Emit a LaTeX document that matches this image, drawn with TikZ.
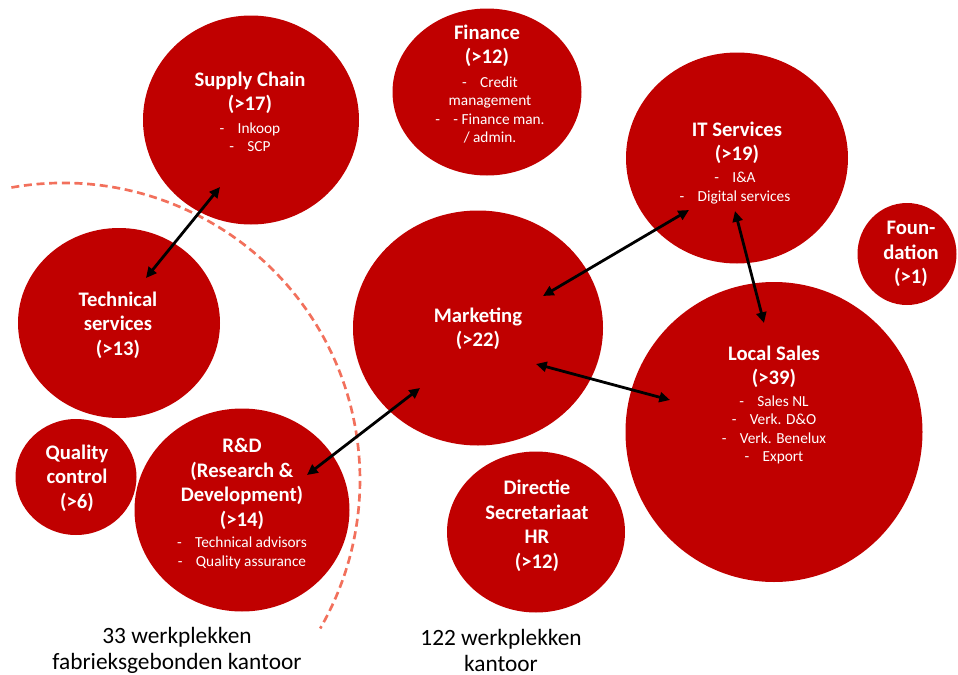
\documentclass[tikz,border=0pt]{standalone}
\usepackage{fontspec}
\setmainfont{Carlito}
\usetikzlibrary{shapes.geometric,arrows.meta}

\definecolor{unitred}{RGB}{192,0,0}
\definecolor{splitline}{RGB}{242,112,92}
\newcommand{\itemdash}{-\hspace{10pt}}

\tikzset{
  unit/.style 2 args={shape=ellipse,fill=unitred,inner sep=0pt,
    minimum width=#1*0.75pt,minimum height=#2*0.75pt},
  head/.style={text=white,align=center,inner sep=0pt,
    font=\bfseries\fontsize{15.5}{18.4}\selectfont},
  sub/.style={text=white,align=center,inner sep=0pt,
    font=\fontsize{11.5}{13.9}\selectfont},
  caption/.style={text=black,align=center,inner sep=0pt,
    font=\fontsize{17.5}{19.5}\selectfont},
  link/.style={{Triangle[length=8pt,width=7.5pt]}-{Triangle[length=8pt,width=7.5pt]},
    line width=2.1pt,black},
  split/.style={splitline,line width=2pt,dash pattern=on 6pt off 3.5pt},
}

\begin{document}
\begin{tikzpicture}[x=0.75pt,y=-0.75pt]
  \useasboundingbox (0,0) rectangle (958,675);

  % border between factory office and office
  \coordinate (splitstart) at (11.4,187.5);
  \draw[split] (splitstart) arc[start angle=100,end angle=-30,radius=222.75pt];

  % units
  \node[unit={216}{209}] (sc) at (251,120) {};
  \node[unit={189}{167}] (fin) at (487,92) {};
  \node[unit={222}{211}] (it) at (737,158) {};
  \node[unit={99}{102}] (fd) at (907,254) {};
  \node[unit={202}{190}] (ts) at (119,323) {};
  \node[unit={250}{235}] (mk) at (478,328) {};
  \node[unit={297}{300}] (ls) at (774,432) {};
  \node[unit={121}{116}] (qc) at (76,477) {};
  \node[unit={215}{203}] (rd) at (242,510) {};
  \node[unit={178}{161}] (dir) at (536,532) {};

  % labels
  \node[head] (sc-t) at (250,93) {Supply Chain\\(>17)};
  \node[sub] (sc-s) at (250,137) {\itemdash Inkoop\\\itemdash SCP};
  \node[head] (fin-t) at (487,46) {Finance\\(>12)};
  \node[sub] (fin-s) at (490,110) {\itemdash Credit\\management\\\itemdash- Finance man.\\/ admin.};
  \node[head] (it-t) at (737,143) {IT Services\\(>19)};
  \node[sub] (it-s) at (735,188) {\itemdash I\&A\\\itemdash Digital services};
  \node[head] (fd-t) at (911,254) {Foun-\\dation\\(>1)};
  \node[head] (ts-t) at (118,325) {Technical\\services\\(>13)};
  \node[head] (mk-t) at (478,329) {Marketing\\(>22)};
  \node[head] (ls-t) at (774,367) {Local Sales\\(>39)};
  \node[sub] (ls-s) at (774,430) {\itemdash Sales NL\\\itemdash Verk. D\&O\\\itemdash Verk. Benelux\\\itemdash Export};
  \node[head] (qc-t) at (77,478) {Quality\\control\\(>6)};
  \node[head] (rd-t) at (242,484) {R\&D\\(Research \&\\Development)\\(>14)};
  \node[sub] (rd-s) at (242,553) {\itemdash Technical advisors\\\itemdash Quality assurance};
  \node[head] (dir-t) at (537,526) {Directie\\Secretariaat\\HR\\(>12)};

  % captions
  \node[caption] (cap-fab) at (177,650) {33 werkplekken\\fabrieksgebonden kantoor};
  \node[caption] (cap-off) at (501,650) {122 werkplekken\\kantoor};

  % arrow ends
  \coordinate (sc-in) at (220,187);
  \coordinate (ts-in) at (146,278);
  \coordinate (mk-in1) at (543,296);
  \coordinate (it-in1) at (689,210);
  \coordinate (it-in2) at (735,211);
  \coordinate (ls-in1) at (764,323);
  \coordinate (mk-in2) at (536,364);
  \coordinate (ls-in2) at (670,400);
  \coordinate (mk-in3) at (420,388);
  \coordinate (rd-in) at (307,475);

  % links
  \draw[link] (sc-in) -- (ts-in);
  \draw[link] (mk-in1) -- (it-in1);
  \draw[link] (it-in2) -- (ls-in1);
  \draw[link] (mk-in2) -- (ls-in2);
  \draw[link] (mk-in3) -- (rd-in);
\end{tikzpicture}
\end{document}
